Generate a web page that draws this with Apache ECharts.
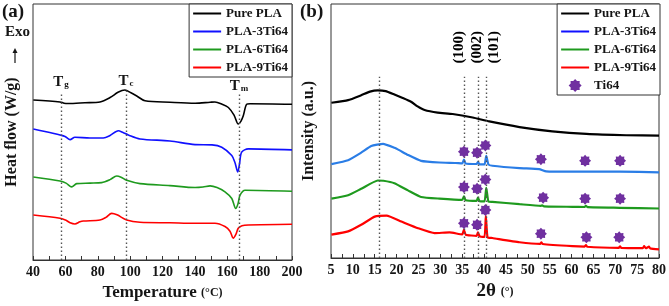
<!DOCTYPE html>
<html>
<head>
<meta charset="utf-8">
<script src="https://cdn.jsdelivr.net/npm/echarts@6/dist/echarts.min.js"></script>
<style>
html, body { margin: 0; padding: 0; background: #fff; }
#chart { width: 669px; height: 306px; }
</style>
</head>
<body>
<div id="chart"></div>
<script>
// (a) DSC curves: [temperature (°C), heat flow (a.u., stacked offsets)]
const dscPure = [[40.2,161.3],[56.7,159.3],[59.2,158],[61.8,157.7],[72.1,158.5],[81.4,159.3],[87.6,163.7],[92.5,169],[96.8,171.3],[100.5,168.5],[104.1,165.3],[109.2,160.5],[124.6,159],[140.1,158],[149.4,159],[152.4,159.3],[156.8,157],[160.7,153.7],[164.2,146],[166.8,137],[168.5,140],[169.9,145.3],[172,157],[174.1,157.5],[200,157]];
const dsc3 = [[40.2,132],[47.4,129.5],[56.7,126],[59.8,124.5],[62.9,121.3],[65.9,123.7],[75.2,123],[83.4,123],[87.6,125.5],[92.7,130.3],[95.6,128.5],[98.9,126],[106.1,122],[124.6,120],[140.1,116.3],[150.6,116],[156.6,113.7],[162.8,105.3],[164.8,98],[166.5,88.7],[167.6,97],[168.9,108.7],[173,112],[200,111]];
const dsc6 = [[40.2,83.7],[56.7,79.7],[60.4,77.5],[63.9,73.7],[67,77],[75.2,77.5],[82.4,78],[87.6,81],[91.7,84.7],[94.4,83.5],[97.9,80.3],[106.1,77],[124.6,75],[140.1,73],[145,73.5],[149.4,74.7],[153.7,73],[158.6,68.7],[162.8,62],[165.2,52],[166.7,57],[167.9,65.3],[171,70.3],[200,69.3]];
const dsc9 = [[40.2,45.3],[56.7,42],[60.4,40],[62.9,37.5],[65.9,36.3],[69,38.5],[71.1,39.3],[81.4,40.3],[85.1,43],[88.6,47],[91.9,45.5],[97.9,40.3],[106.1,38],[124.6,37.5],[140.1,37],[152.4,37],[158.6,33.7],[161.7,29],[163.7,22],[165.4,26],[166.8,32],[169.1,34.5],[173,35.3],[200,36]];
const dscMarkTemps = [57.3, 97.4, 167.2];
const dscMarkSubs = ['g', 'c', 'm'];

// (b) XRD patterns: [2θ (°), intensity (a.u., stacked offsets)]
const xrdPure = [[5.1,157.7],[8.9,160.3],[11.9,165.3],[13.9,169],[15.7,170.3],[17.5,169.5],[19.5,166],[21.4,162.5],[23.3,158.7],[24.8,154],[26.4,150.3],[29.4,147.7],[32.8,146.3],[37.4,142.7],[41.2,138.7],[48.1,133],[55.6,128.7],[63.4,126],[72.5,124.7],[80,124.3]];
const xrd3 = [[5.1,95.3],[8.9,99.3],[11.9,107],[14.2,113.7],[16.9,116],[19.5,112],[20.7,109.3],[22.6,104.7],[25.6,98.7],[29.8,97],[33.5,96.5],[35,96],[35.4,100],[35.8,96],[38.3,95.5],[38.6,97.7],[39,95],[40.1,95],[40.5,103.7],[41,95],[41.9,93.7],[48.1,91.3],[52.6,90.3],[54.2,88],[60.2,87.7],[71,87.7],[80,87]];
const xrd6 = [[5.1,60.3],[8.9,63.7],[11.9,70.3],[15.7,78.7],[17,78.5],[19.5,76],[22.6,68.7],[25.6,62],[29.8,60.3],[35,59],[35.4,62.7],[35.8,58.7],[38.3,58],[38.6,61.3],[39,57.7],[40.1,57.5],[40.5,71.3],[41,57.3],[41.9,57],[48.1,54.7],[53,53],[53.3,53.5],[53.7,52.5],[60.2,52],[63,51.8],[63.3,53],[63.7,51.6],[71,51],[80,50.3]];
const xrd9 = [[5.1,23.7],[8.9,27],[11.9,33.7],[15,42],[17.7,43],[21.1,37],[24.9,30.3],[28.7,25.3],[32.1,26],[35,24],[35.4,28.7],[35.8,23.7],[38.3,22.5],[38.6,26],[39,22],[40.1,21.5],[40.4,42.7],[40.8,21],[41.9,20.3],[48.1,16],[52.8,14.3],[53.1,15.8],[53.4,14.2],[60.2,12],[63,11.6],[63.3,13.2],[63.6,11.4],[70.8,10.3],[71.1,11.8],[71.4,10.2],[76.3,10],[76.6,12],[77,10],[77.7,11.5],[78,9.8],[80,8.7]];
const ti64Peaks = [[35.4,108],[38.4,107],[40.3,114.3],[53.0,100.3],[63.1,98.7],[71.1,98.7],
                   [35.4,72],[38.4,70.3],[40.3,79.7],[53.5,61.3],[63.1,60.3],[71.1,60.3],
                   [35.4,35.3],[38.4,33.7],[40.3,48.7],[53.0,24.7],[63.4,21],[70.9,21]];
const xrdMarkAngles = [16.0, 35.4, 38.6, 40.5];
const planeLabels = ['(100)', '(002)', '(101)'];
const planeLabelAngles = [34.2, 38.4, 42.4];

const names = ['Pure PLA', 'PLA-3Ti64', 'PLA-6Ti64', 'PLA-9Ti64'];
const dscColors = ['#000000', '#1010ff', '#1e9a1e', '#ff0000'];
const xrdColors = ['#000000', '#2a7de6', '#1e9a1e', '#ff0000'];

const serif = '"Liberation Serif", "Times New Roman", serif';
const ink = '#151515';
const star = 'path://M10,0L12.9,3.2L17.07,2.93L16.8,7.1L20,10L16.8,12.9L17.07,17.07L12.9,16.8L10,20L7.1,16.8L2.93,17.07L3.2,12.9L0,10L3.2,7.1L2.93,2.93L7.1,3.2Z';
const dash = 'path://M0,0H28V2H0Z';

let chart = echarts.init(document.getElementById('chart'));

function xAxisOf(grid, min, max, interval, name, nameSize) {
  return {
    gridIndex: grid, type: 'value', min: min, max: max, interval: interval,
    name: name, nameLocation: 'middle', nameGap: 24,
    nameTextStyle: { fontFamily: serif, fontWeight: 'bold', fontSize: nameSize, color: ink,
      rich: { u: { fontFamily: serif, fontWeight: 'bold', fontSize: 12, color: ink } } },
    axisLine: { show: true, lineStyle: { color: '#333', width: 1 } },
    axisTick: { show: true, inside: true, length: 4, lineStyle: { color: '#333' } },
    minorTick: { show: true, splitNumber: 2, length: 4, lineStyle: { color: '#333' } },
    axisLabel: { margin: 5, fontFamily: serif, fontWeight: 'bold', fontSize: 14, color: ink,
      showMinLabel: true, showMaxLabel: true },
    splitLine: { show: false }
  };
}
function yAxisOf(grid, name, gap) {
  return {
    gridIndex: grid, type: 'value', min: 0, max: 258,
    name: name, nameLocation: 'middle', nameGap: gap, nameRotate: 90,
    nameTextStyle: { fontFamily: serif, fontWeight: 'bold', fontSize: 16, color: ink },
    axisLine: { show: false }, axisTick: { show: false },
    axisLabel: { show: false }, splitLine: { show: false }
  };
}
function lineSeries(name, data, color, idx, width) {
  return {
    name: name, type: 'line', xAxisIndex: idx, yAxisIndex: idx, data: data,
    symbol: 'none', smooth: 0.3, silent: true,
    lineStyle: { color: color, width: width }, itemStyle: { color: color }
  };
}
const dotted = { color: '#555', width: 1.4, type: [1.4, 2.6] };

let dscSeries = [dscPure, dsc3, dsc6, dsc9].map((d, i) => lineSeries(names[i], d, dscColors[i], 0, 1.6));
dscSeries[0].markLine = {
  silent: true, symbol: ['none', 'none'], lineStyle: dotted,
  label: {
    show: true, position: 'end',
    rich: {
      t: { fontFamily: serif, fontWeight: 'bold', fontSize: 15, color: ink, lineHeight: 15, verticalAlign: 'top' },
      s: { fontFamily: serif, fontWeight: 'bold', fontSize: 9, color: ink, lineHeight: 10, verticalAlign: 'bottom', padding: [9, 0, 0, 1] }
    }
  },
  data: dscMarkTemps.map((t, i) => [
    { coord: [t, 0] },
    { coord: [t, [167, 171, 167][i]], label: { formatter: '{t|T}{s|' + dscMarkSubs[i] + '}', distance: [5, 2, 1][i] } }
  ])
};

let xrdSeries = [xrdPure, xrd3, xrd6, xrd9].map((d, i) => lineSeries(names[i], d, xrdColors[i], 1, 2.2));
xrdSeries.forEach(s => { s.smooth = 0.15; });
xrdSeries[0].markLine = {
  silent: true, symbol: ['none', 'none'], lineStyle: dotted, label: { show: false },
  data: xrdMarkAngles.map(a => [{ coord: [a, 0] }, { coord: [a, 184] }])
};

const legendBase = {
  orient: 'vertical', top: 4, padding: [3, 4, 3, 4], itemGap: 5, itemWidth: 28, itemHeight: 13,
  borderColor: '#333', borderWidth: 1, backgroundColor: '#fff', selectedMode: false,
  textStyle: { fontFamily: serif, fontWeight: 'bold', fontSize: 13, color: ink }
};
const lineItems = names.map((n, i) => ({
  name: n, icon: dash, itemStyle: { color: dscColors[i], borderWidth: 0 }
}));

let option = {
  animation: false,
  backgroundColor: '#fff',
  grid: [
    { left: 33, right: 377, top: 4, bottom: 44, show: true, borderColor: '#333', borderWidth: 1, backgroundColor: 'transparent' },
    { left: 331, right: 9, top: 4, bottom: 44, show: true, borderColor: '#333', borderWidth: 1, backgroundColor: 'transparent' }
  ],
  xAxis: [
    xAxisOf(0, 40, 200, 20, 'Temperature {u|(°C)}', 17),
    xAxisOf(1, 5, 80, 5, '2θ {u|(°)}', 19)
  ],
  yAxis: [
    yAxisOf(0, 'Heat flow (W/g)', 13),
    yAxisOf(1, 'Intensity (a.u.)', 14)
  ],
  legend: [
    Object.assign({}, legendBase, { right: 377, data: lineItems }),
    Object.assign({}, legendBase, {
      right: 9,
      data: lineItems.concat([{ name: 'Ti64', icon: star, itemStyle: { color: '#7030a0' } }])
    })
  ],
  graphic: [
    { type: 'text', left: 2, top: 3, style: { text: '(a)', font: 'bold 19px ' + serif, fill: ink } },
    { type: 'text', left: 5, top: 25, style: { text: 'Exo', font: 'bold 15px ' + serif, fill: ink } },
    { type: 'line', shape: { x1: 15, y1: 63, x2: 15, y2: 52 }, style: { stroke: ink, lineWidth: 1.2 } },
    { type: 'polygon', shape: { points: [[12.5, 53], [17.5, 53], [15, 48]] }, style: { fill: ink } },
    { type: 'text', left: 300, top: 3, style: { text: '(b)', font: 'bold 19px ' + serif, fill: ink } }
  ],
  series: dscSeries.concat(xrdSeries).concat([
    {
      name: 'Ti64', type: 'scatter', xAxisIndex: 1, yAxisIndex: 1, data: ti64Peaks,
      symbol: star, symbolSize: 12, itemStyle: { color: '#7030a0', opacity: 1 }, silent: true, z: 5
    },
    {
      name: 'planes', type: 'scatter', xAxisIndex: 1, yAxisIndex: 1, symbolSize: 0, silent: true,
      itemStyle: { opacity: 1 },
      data: planeLabels.map((p, i) => ({ name: p, value: [planeLabelAngles[i], 214] })),
      label: { show: true, position: 'inside', rotate: 90, formatter: '{b}', opacity: 1,
        fontFamily: serif, fontWeight: 'bold', fontSize: 15, color: '#000' }
    }
  ])
};
chart.setOption(option);
</script>
</body>
</html>
